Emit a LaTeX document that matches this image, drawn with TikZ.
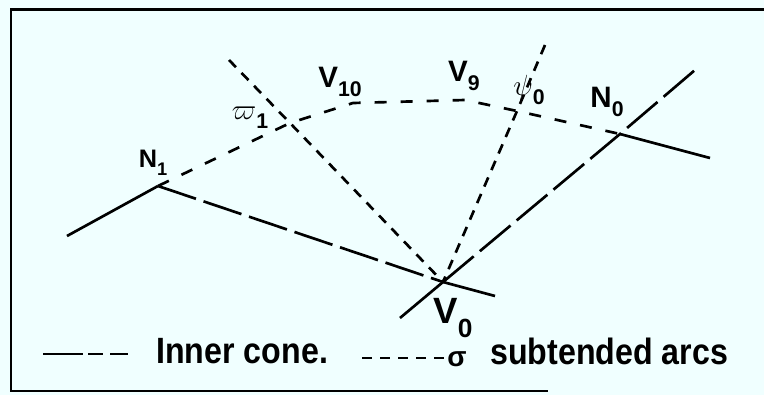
\documentclass[tikz,border=0pt]{standalone}
\usepackage{fontspec}
\setmainfont{Liberation Sans}
\usepackage{xcolor}
\usetikzlibrary{positioning}

\definecolor{paper}{RGB}{240,255,255}
\newcommand{\lowsub}[1]{\raisebox{-0.6ex}{\scalebox{0.72}{#1}}}
\newcommand{\narrow}[1]{\scalebox{0.88}[1]{#1}}

\begin{document}
\begin{tikzpicture}[x=0.025cm, y=-0.025cm, line width=1.9pt,
    every node/.style={inner sep=0pt, font=\bfseries\fontsize{21}{21}\selectfont},
    legendtext/.style={anchor=west, font=\bfseries\fontsize{26}{26}\selectfont},
    conedash/.style={dash pattern=on 1cm off 0.2cm},
    arcdash/.style={dash pattern=on 0.25cm off 0.2cm},
    sweepdash/.style={dash pattern=on 0.3cm off 0.35cm}]
    \fill[paper] (0,0) rectangle (764,395);
    \useasboundingbox (0,0) rectangle (764,395);
    \draw[line width=2pt] (764,9.5) -- (11,9.5) -- (11,391) -- (548,391);

    \coordinate (N1) at (158,186);
    \coordinate (V0) at (443,282);
    \coordinate (N0) at (620,134);
    \coordinate (W1) at (290,123);
    \coordinate (V10) at (353,103);
    \coordinate (V9) at (465,100);
    \coordinate (P0) at (517,111);
    \coordinate (n1end) at (67,236);
    \coordinate (v0right) at (495,296);
    \coordinate (v0low) at (400,318);
    \coordinate (n0top) at (695,70);
    \coordinate (n0end) at (710,158);
    \coordinate (s1) at (229,60);
    \coordinate (s0) at (545,45);

    \draw (n1end) -- (N1);
    \draw[conedash] (N1) -- (V0);
    \draw (V0) -- (v0right);
    \draw (v0low) -- (V0);
    \draw[conedash] (V0) -- (N0) -- (n0top);
    \draw (N0) -- (n0end);

    \draw[arcdash] (s1) -- (W1) -- (V0);
    \draw[arcdash] (s0) -- (P0) -- (V0);
    \draw[sweepdash] (N1) -- (W1) -- (V10) -- (V9) -- (P0) -- (N0);

    \node[font=\bfseries\fontsize{18}{18}\selectfont] (labN1) at (153,163) {N\lowsub{1}};
    \node (labW1) at (250,118) {$\varpi$\lowsub{1}};
    \node (labV10) at (340,82) {V\lowsub{10}};
    \node (labV9) at (464,76) {V\lowsub{9}};
    \node (labP0) at (529,90) {$\psi$\lowsub{0}};
    \node (labN0) at (607,102) {N\lowsub{0}};
    \node[font=\bfseries\fontsize{26}{26}\selectfont] (labV0) at (453,318) {V\raisebox{-0.75ex}{\scalebox{0.72}{0}}};

    \coordinate (leg1) at (43,354);
    \coordinate (leg2) at (128,354);
    \draw[dash pattern=on 1cm off 0.125cm on 0.375cm off 0.175cm on 0.45cm] (leg1) -- (leg2);
    \node[legendtext] (cone) at (155,351) {\narrow{Inner cone.}};
    \coordinate (leg3) at (362,358);
    \coordinate (leg4) at (449,358);
    \draw[arcdash] (leg3) -- (leg4);
    \node[font=\bfseries\fontsize{20}{20}\selectfont] (sig) at (457,359) {σ};
    \node[legendtext] (arcs) at (489,351) {\narrow{subtended arcs}};
\end{tikzpicture}
\end{document}
